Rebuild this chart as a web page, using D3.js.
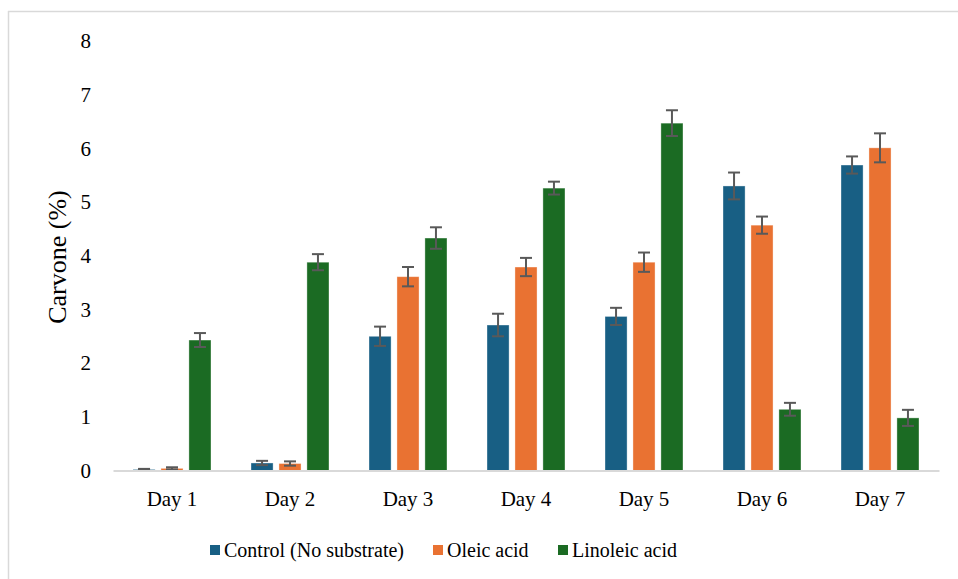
<!DOCTYPE html>
<html><head><meta charset="utf-8">
<script src="https://cdn.jsdelivr.net/npm/d3@7"></script>
<style>body{margin:0;background:#fff}svg{display:block}svg text{font-family:"Liberation Serif","Times New Roman","DejaVu Serif",serif !important}</style>
</head><body>
<svg id="c" width="958" height="579"></svg>
<script>
const categories = ["Day 1","Day 2","Day 3","Day 4","Day 5","Day 6","Day 7"];
const seriesNames = ["Control (No substrate)","Oleic acid","Linoleic acid"];
const colors = ["#185f84","#e97232","#1b6b23"];
const control = [0.02,0.14,2.50,2.71,2.87,5.30,5.69];
const controlErr = [0.01,0.04,0.18,0.21,0.16,0.25,0.16];
const oleic = [0.04,0.13,3.61,3.79,3.88,4.57,6.01];
const oleicErr = [0.02,0.04,0.18,0.17,0.18,0.16,0.27];
const linoleic = [2.43,3.88,4.33,5.26,6.47,1.14,0.98];
const linoleicErr = [0.13,0.15,0.20,0.12,0.24,0.12,0.15];
const yTicks = [0,1,2,3,4,5,6,7,8];

const values = [control, oleic, linoleic];
const errs = [controlErr, oleicErr, linoleicErr];

const svg = d3.select("#c");

svg.append("line").attr("x1",8.5).attr("x2",8.5).attr("y1",11).attr("y2",579).attr("stroke","#d9d9d9").attr("stroke-width",1.5);
svg.append("line").attr("x1",8).attr("x2",958).attr("y1",11.5).attr("y2",11.5).attr("stroke","#d9d9d9").attr("stroke-width",1.5);

const x0 = d3.scaleBand().domain(categories).range([113,939]).paddingInner(0).paddingOuter(0);
const y = d3.scaleLinear().domain([0,8]).range([470.5,41]);
const x1 = d3.scaleBand().domain(d3.range(3)).range([0,78]).paddingInner(0.21).paddingOuter(0);

const yAxis = d3.axisLeft(y).tickValues(yTicks).tickSize(0).tickPadding(0).tickFormat(d3.format("d"));
const ya = svg.append("g").attr("transform","translate(91,0)").call(yAxis);
ya.select(".domain").remove();
ya.selectAll("text").attr("font-size",21).attr("fill","#000");

categories.forEach((cat,i)=>{
  const gx = x0(cat) + x0.bandwidth()/2 - 39;
  values.forEach((vals,s)=>{
    const bx = gx + x1(s);
    svg.append("rect").attr("x",bx).attr("y",y(vals[i])).attr("width",x1.bandwidth())
      .attr("height",y(0)-y(vals[i])).attr("fill",colors[s]).attr("stroke","rgba(255,255,255,0.45)").attr("stroke-width",0.8);
  });
});
categories.forEach((cat,i)=>{
  const gx = x0(cat) + x0.bandwidth()/2 - 39;
  values.forEach((vals,s)=>{
    const cx = gx + x1(s) + x1.bandwidth()/2;
    const top = y(vals[i]+errs[s][i]), bot = y(Math.max(0,vals[i]-errs[s][i]));
    const g = svg.append("g").attr("stroke","#595959").attr("stroke-width",2);
    g.append("line").attr("x1",cx).attr("x2",cx).attr("y1",top).attr("y2",bot);
    g.append("line").attr("x1",cx-6).attr("x2",cx+6).attr("y1",top).attr("y2",top);
    g.append("line").attr("x1",cx-6).attr("x2",cx+6).attr("y1",bot).attr("y2",bot);
  });
});

const xAxis = d3.axisBottom(x0).tickSize(0).tickPadding(21);
const xa = svg.append("g").attr("transform",`translate(0,${y(0)})`).call(xAxis);
xa.select(".domain").attr("stroke","#d9d9d9").attr("stroke-width",2);
xa.selectAll("text").attr("font-size",21).attr("fill","#000");

svg.append("text").attr("transform","translate(66,257) rotate(-90)").attr("text-anchor","middle")
  .attr("font-size",26).attr("fill","#000").text("Carvone (%)");

const legX = [210,433,558];
seriesNames.forEach((n,s)=>{
  svg.append("rect").attr("x",legX[s]).attr("y",545).attr("width",10).attr("height",10).attr("fill",colors[s]);
  svg.append("text").attr("x",legX[s]+14).attr("y",557).attr("font-size",20).attr("fill","#000").text(n);
});
</script>
</body></html>
